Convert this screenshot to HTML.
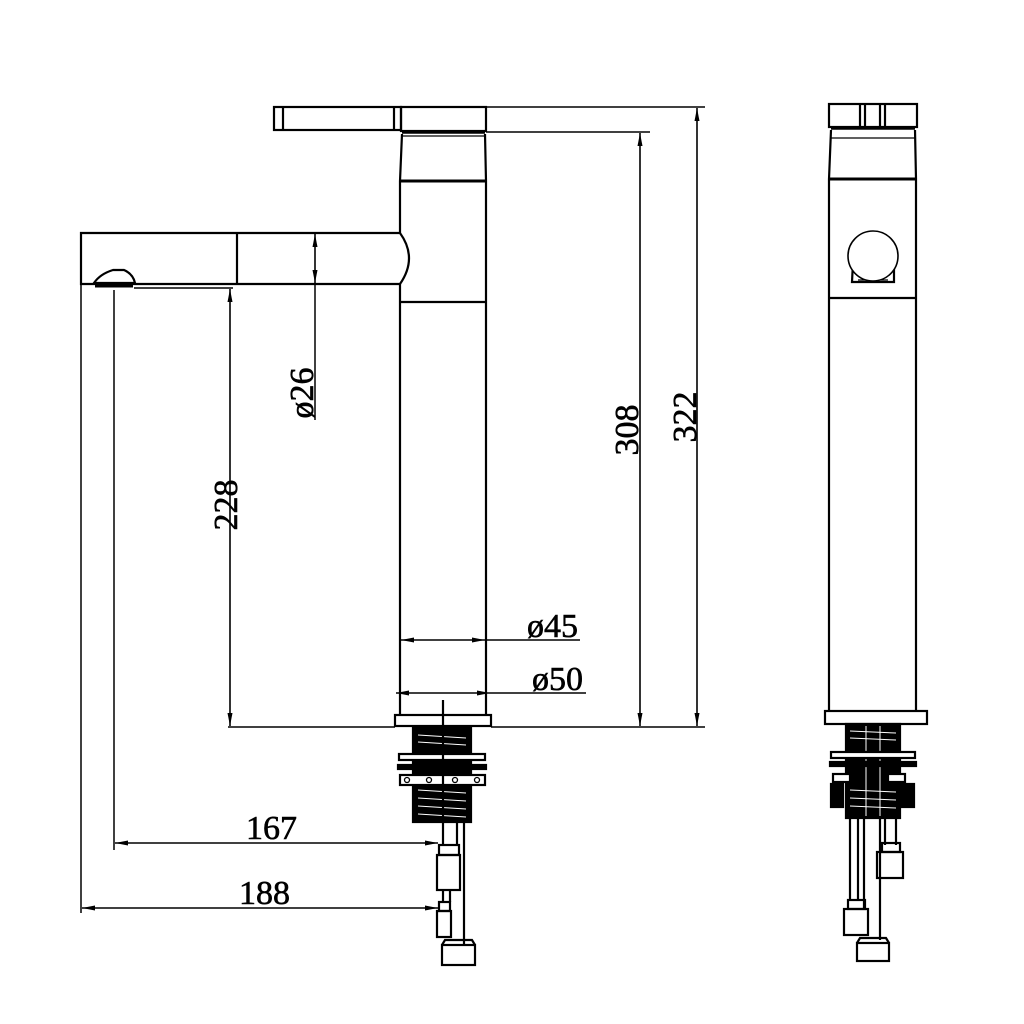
<!DOCTYPE html>
<html><head><meta charset="utf-8"><style>
html,body{margin:0;padding:0;background:#fff;}
svg{display:block}
text{font-family:"Liberation Serif",serif;font-size:34px;fill:#000;stroke:#000;stroke-width:0.6;}
</style></head><body>
<svg width="1024" height="1024" viewBox="0 0 1024 1024" xmlns="http://www.w3.org/2000/svg">
<defs>
<marker id="a" viewBox="0 0 10 10" refX="10" refY="5" markerWidth="13" markerHeight="5" preserveAspectRatio="none" orient="auto-start-reverse" markerUnits="userSpaceOnUse"><path d="M0,0 L10,5 L0,10 z" fill="#000"/></marker>
</defs>
<g fill="none" stroke="#000" stroke-width="2.2">
<!-- FRONT VIEW -->
<rect x="274" y="107" width="127" height="23"/>
<line x1="283" y1="107" x2="283" y2="130"/>
<line x1="394" y1="107" x2="394" y2="130"/>
<rect x="401" y="107" width="85" height="24"/>
<line x1="402" y1="132" x2="485" y2="132" stroke-width="3.5"/>
<line x1="402" y1="136" x2="485" y2="136" stroke-width="1.2"/>
<path d="M402,134 L400,181 M485,134 L486,181"/>
<line x1="400" y1="181" x2="486" y2="181" stroke-width="3"/>
<path d="M400,181 L400,233 M400,284 L400,715 M486,181 L486,715"/>
<line x1="400" y1="302" x2="486" y2="302"/>
<!-- spout -->
<path d="M400,233 L81,233 L81,284 L400,284"/>
<path d="M400,233 Q418,258 400,284"/>
<line x1="237" y1="233" x2="237" y2="284"/>
<path d="M94,283 Q100,274 113,270 L124,270 Q133,274 135,283 Z" fill="#fff"/>
<line x1="95" y1="286" x2="133" y2="286" stroke-width="3"/>
<!-- base plate -->
<rect x="395" y="715" width="96" height="11"/>
<!-- threads -->
<rect x="413" y="728" width="58" height="94" fill="#000"/>
<g stroke="#fff" stroke-width="1">
<line x1="418" y1="735" x2="466" y2="738"/><line x1="418" y1="742" x2="466" y2="745"/><line x1="418" y1="790" x2="466" y2="793"/><line x1="418" y1="798" x2="466" y2="801"/><line x1="418" y1="806" x2="466" y2="809"/><line x1="418" y1="814" x2="466" y2="817"/>
</g>
<rect x="399" y="754" width="86" height="6" fill="#fff"/>
<rect x="398" y="765" width="88" height="4" fill="#000"/>
<rect x="400" y="775" width="85" height="10" fill="#fff"/>
<g stroke-width="1.3"><circle cx="407" cy="780" r="2.5"/><circle cx="429" cy="780" r="2.5"/><circle cx="455" cy="780" r="2.5"/><circle cx="477" cy="780" r="2.5"/></g>
<line x1="443" y1="700" x2="443" y2="845"/>
<line x1="457" y1="822" x2="457" y2="845"/>
<line x1="464" y1="822" x2="464" y2="945"/>
<rect x="439" y="845" width="20" height="10"/>
<rect x="437" y="855" width="23" height="35"/>
<line x1="443" y1="890" x2="443" y2="902"/>
<line x1="450" y1="890" x2="450" y2="902"/>
<rect x="439" y="902" width="11" height="9"/>
<rect x="437" y="911" width="14" height="26"/>
<rect x="442" y="945" width="33" height="20"/>
<path d="M442,945 L445,940 L472,940 L475,945"/>
<!-- dimension lines -->
<g stroke-width="1.5">
<line x1="486" y1="107" x2="705" y2="107"/>
<line x1="486" y1="132" x2="650" y2="132"/>
<line x1="228" y1="727" x2="395" y2="727"/>
<line x1="491" y1="727" x2="705" y2="727"/>
<line x1="134" y1="288" x2="233" y2="288"/>
<line x1="114" y1="290" x2="114" y2="850"/>
<line x1="81" y1="284" x2="81" y2="913"/>
<line x1="315" y1="284" x2="315" y2="420"/>
</g>
<g stroke-width="1.6">
<line x1="315" y1="234" x2="315" y2="283" marker-start="url(#a)" marker-end="url(#a)"/>
<line x1="230" y1="289" x2="230" y2="726" marker-start="url(#a)" marker-end="url(#a)"/>
<line x1="640" y1="133" x2="640" y2="726" marker-start="url(#a)" marker-end="url(#a)"/>
<line x1="697" y1="108" x2="697" y2="726" marker-start="url(#a)" marker-end="url(#a)"/>
<line x1="401" y1="640" x2="485" y2="640" marker-start="url(#a)" marker-end="url(#a)"/>
<line x1="485" y1="640" x2="580" y2="640"/>
<line x1="396" y1="693" x2="490" y2="693" marker-start="url(#a)" marker-end="url(#a)"/>
<line x1="490" y1="693" x2="586" y2="693"/>
<line x1="115" y1="843" x2="438" y2="843" marker-start="url(#a)" marker-end="url(#a)"/>
<line x1="82" y1="908" x2="438" y2="908" marker-start="url(#a)" marker-end="url(#a)"/>
</g>
<!-- SIDE VIEW -->
<rect x="829" y="104" width="88" height="23"/>
<line x1="860" y1="104" x2="860" y2="127"/><line x1="865" y1="104" x2="865" y2="127"/>
<line x1="880" y1="104" x2="880" y2="127"/><line x1="885" y1="104" x2="885" y2="127"/>
<line x1="831" y1="128" x2="915" y2="128" stroke-width="3.5"/>
<line x1="831" y1="138" x2="915" y2="138" stroke-width="1.2"/>
<path d="M831,130 L829,179 M915,130 L916,179"/>
<line x1="829" y1="179" x2="916" y2="179" stroke-width="3"/>
<path d="M829,179 L829,711 M916,179 L916,711"/>
<line x1="829" y1="298" x2="916" y2="298"/>
<path d="M853,262 L852,282 L894,282 L894,262"/>
<line x1="858" y1="280" x2="888" y2="280" stroke-width="1.2"/>
<circle cx="873" cy="256" r="25" fill="#fff" stroke-width="1.6"/>
<rect x="825" y="711" width="102" height="13"/>
<rect x="846" y="724" width="54" height="94" fill="#000"/>
<g stroke="#fff" stroke-width="1">
<line x1="850" y1="731" x2="896" y2="733"/><line x1="850" y1="738" x2="896" y2="740"/><line x1="850" y1="790" x2="896" y2="792"/><line x1="850" y1="798" x2="896" y2="800"/><line x1="850" y1="806" x2="896" y2="808"/>
<line x1="866" y1="726" x2="866" y2="816"/><line x1="880" y1="726" x2="880" y2="816"/>
</g>
<rect x="831" y="752" width="84" height="6" fill="#fff"/>
<rect x="830" y="762" width="86" height="4" fill="#000"/>
<rect x="833" y="774" width="17" height="8" fill="#fff"/>
<rect x="888" y="774" width="17" height="8" fill="#fff"/>
<rect x="831" y="784" width="12" height="23" fill="#000"/>
<rect x="902" y="784" width="12" height="23" fill="#000"/>
<line x1="850" y1="818" x2="850" y2="900"/>
<line x1="864" y1="818" x2="864" y2="910"/>
<line x1="858" y1="818" x2="858" y2="900"/>
<line x1="880" y1="818" x2="880" y2="940"/>
<line x1="885" y1="818" x2="885" y2="845"/>
<line x1="896" y1="818" x2="896" y2="845"/>
<rect x="882" y="843" width="18" height="9"/>
<rect x="877" y="852" width="26" height="26"/>
<rect x="848" y="900" width="17" height="9"/>
<rect x="844" y="909" width="24" height="26"/>
<rect x="857" y="943" width="32" height="18"/>
<path d="M857,943 L860,938 L886,938 L889,943"/>
</g>
<text x="246" y="839">167</text>
<text x="239" y="904">188</text>
<text x="527" y="637">ø45</text>
<text x="532" y="690">ø50</text>
<text transform="translate(237,505) rotate(-90)" text-anchor="middle">228</text>
<text transform="translate(313,393) rotate(-90)" text-anchor="middle">ø26</text>
<text transform="translate(638,430) rotate(-90)" text-anchor="middle">308</text>
<text transform="translate(696,417) rotate(-90)" text-anchor="middle">322</text>
</svg>
</body></html>
